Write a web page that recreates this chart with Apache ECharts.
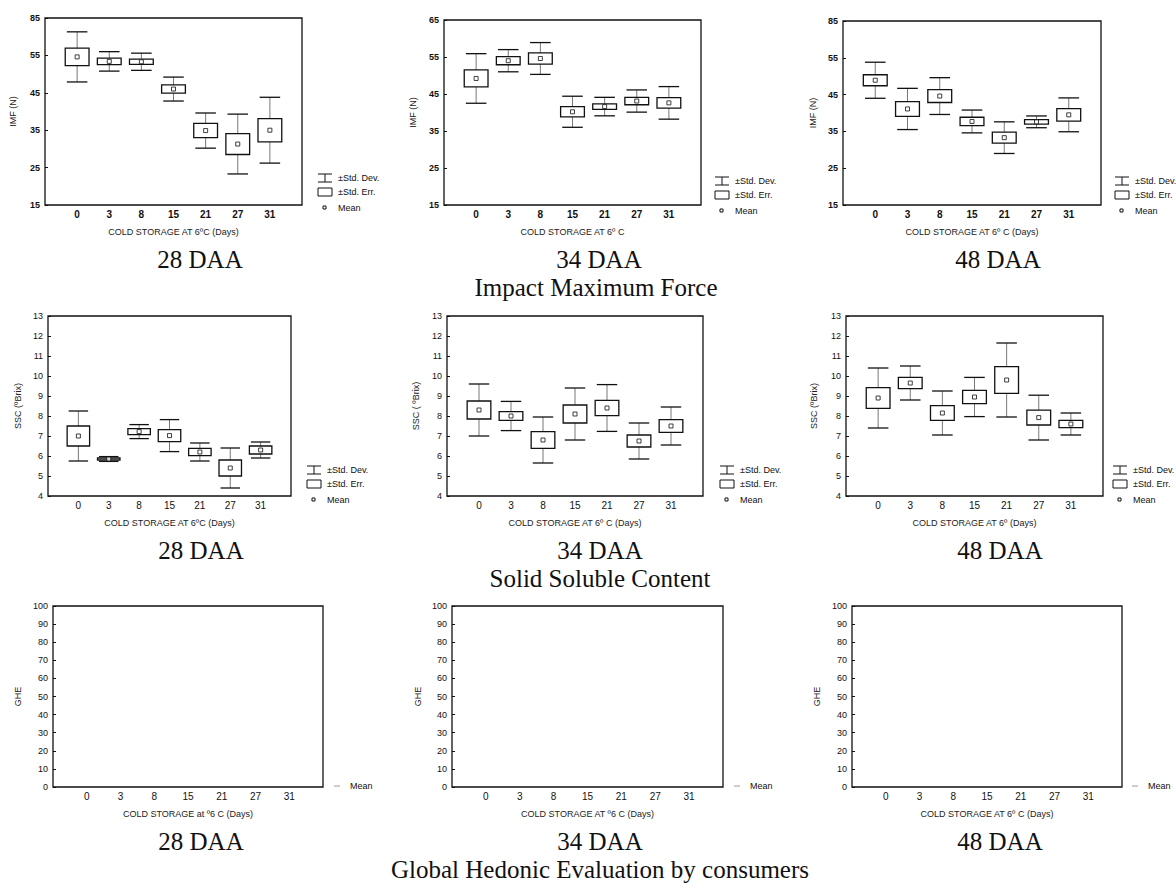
<!DOCTYPE html>
<html>
<head>
<meta charset="utf-8">
<script src="https://cdn.jsdelivr.net/npm/echarts@6/dist/echarts.min.js"></script>
<style>
html, body { margin: 0; background: #fff; }
#chart { width: 1176px; height: 884px; }
</style>
</head>
<body>
<div id="chart"></div>
<script>
// storage days (x categories)
const days = ['0', '3', '8', '15', '21', '27', '31'];

// Impact Maximum Force (N): mean, std. error, std. deviation
const imf28Mean = [54.6, 53.4, 53.3, 46.0, 34.9, 31.3, 35.0];
const imf28SE   = [2.35, 0.85, 0.7, 1.1, 1.9, 2.8, 3.1];
const imf28SD   = [6.7, 2.6, 2.3, 3.2, 4.7, 8.0, 8.8];

const imf34Mean = [49.2, 54.0, 54.6, 40.2, 41.6, 43.1, 42.6];
const imf34SE   = [2.3, 1.1, 1.5, 1.4, 0.75, 1.0, 1.4];
const imf34SD   = [6.7, 3.0, 4.3, 4.2, 2.5, 3.0, 4.4];

const imf48Mean = [48.9, 41.1, 44.6, 37.7, 33.3, 37.6, 39.5];
const imf48SE   = [1.5, 2.0, 1.75, 1.15, 1.5, 0.6, 1.7];
const imf48SD   = [4.9, 5.6, 5.0, 3.1, 4.3, 1.6, 4.6];

// Solid Soluble Content (ºBrix)
const ssc28Mean = [7.0, 5.85, 7.22, 7.02, 6.2, 5.4, 6.3];
const ssc28SE   = [0.5, 0.05, 0.15, 0.3, 0.18, 0.4, 0.2];
const ssc28SD   = [1.25, 0.12, 0.35, 0.8, 0.45, 1.0, 0.4];

const ssc34Mean = [8.3, 8.0, 6.8, 8.1, 8.4, 6.75, 7.5];
const ssc34SE   = [0.45, 0.22, 0.42, 0.45, 0.38, 0.3, 0.32];
const ssc34SD   = [1.3, 0.73, 1.15, 1.3, 1.17, 0.9, 0.95];

const ssc48Mean = [8.9, 9.65, 8.15, 8.95, 9.8, 7.92, 7.6];
const ssc48SE   = [0.52, 0.28, 0.37, 0.33, 0.67, 0.37, 0.18];
const ssc48SD   = [1.5, 0.85, 1.1, 0.98, 1.85, 1.12, 0.55];

// tick labels as printed
const imfTicksA = ['15', '25', '35', '45', '55', '85'];
const imfTicksB = ['15', '25', '35', '45', '55', '65'];
const sscTicks  = ['4', '5', '6', '7', '8', '9', '10', '11', '12', '13'];
const gheTicks  = ['0', '10', '20', '30', '40', '50', '60', '70', '80', '90', '100'];

const panels = [
  {box: [45, 18, 257, 187], ymin: 15, ymax: 65, step: 10, ticks: imfTicksA, yName: 'IMF (N)', yGap: 28, xName: 'COLD STORAGE AT 6ºC (Days)', mean: imf28Mean, se: imf28SE, sd: imf28SD, leg: [318, 178], bold: true},
  {box: [444, 20, 257, 185], ymin: 15, ymax: 65, step: 10, ticks: imfTicksB, yName: 'IMF (N)', yGap: 27, xName: 'COLD STORAGE AT 6º C', mean: imf34Mean, se: imf34SE, sd: imf34SD, leg: [715, 181], bold: true},
  {box: [843, 21, 258, 184], ymin: 15, ymax: 65, step: 10, ticks: imfTicksA, yName: 'IMF (N)', yGap: 26, xName: 'COLD STORAGE AT 6º C (Days)', mean: imf48Mean, se: imf48SE, sd: imf48SD, leg: [1115, 181], bold: true},
  {box: [48, 316, 243, 180], ymin: 4, ymax: 13, step: 1, ticks: sscTicks, yName: 'SSC (ºBrix)', yGap: 26, xName: 'COLD STORAGE AT 6ºC (Days)', mean: ssc28Mean, se: ssc28SE, sd: ssc28SD, leg: [307, 470]},
  {box: [447, 316, 256, 180], ymin: 4, ymax: 13, step: 1, ticks: sscTicks, yName: 'SSC ( ºBrix)', yGap: 27, xName: 'COLD STORAGE AT 6º C (Days)', mean: ssc34Mean, se: ssc34SE, sd: ssc34SD, leg: [720, 470]},
  {box: [846, 316, 257, 180], ymin: 4, ymax: 13, step: 1, ticks: sscTicks, yName: 'SSC (ºBrix)', yGap: 28, xName: 'COLD STORAGE AT 6º (Days)', mean: ssc48Mean, se: ssc48SE, sd: ssc48SD, leg: [1113, 470]},
  {box: [53, 606, 270, 181], ymin: 0, ymax: 100, step: 10, ticks: gheTicks, yName: 'GHE', yGap: 31, xName: 'COLD STORAGE at º6 C (Days)', mean: [], se: [], sd: [], leg: [330, 786], meanOnly: true},
  {box: [452, 606, 271, 181], ymin: 0, ymax: 100, step: 10, ticks: gheTicks, yName: 'GHE', yGap: 30, xName: 'COLD STORAGE AT º6 C (Days)', mean: [], se: [], sd: [], leg: [730, 786], meanOnly: true},
  {box: [852, 606, 270, 181], ymin: 0, ymax: 100, step: 10, ticks: gheTicks, yName: 'GHE', yGap: 31, xName: 'COLD STORAGE AT 6º C (Days)', mean: [], se: [], sd: [], leg: [1128, 786], meanOnly: true}
];

const captions = [
  ['28 DAA', 200, 259], ['34 DAA', 599, 259], ['48 DAA', 998, 259],
  ['Impact Maximum Force', 596, 287],
  ['28 DAA', 201, 550], ['34 DAA', 600, 550], ['48 DAA', 1000, 550],
  ['Solid Soluble Content', 600, 578],
  ['28 DAA', 201, 841], ['34 DAA', 600, 841], ['48 DAA', 1000, 841],
  ['Global Hedonic Evaluation by consumers', 600, 869]
];

function renderWhisker(params, api) {
  var x = api.value(0), m = api.value(1), d = api.value(2);
  var hi = api.coord([x, m + d]), lo = api.coord([x, m - d]);
  var half = api.size([1, 0])[0] * 0.32;
  var cap = {stroke: '#111', lineWidth: 1.3};
  return {type: 'group', children: [
    {type: 'line', shape: {x1: hi[0], y1: hi[1], x2: lo[0], y2: lo[1]}, style: {stroke: '#555', lineWidth: 0.8}},
    {type: 'line', shape: {x1: hi[0] - half, y1: hi[1], x2: hi[0] + half, y2: hi[1]}, style: cap},
    {type: 'line', shape: {x1: lo[0] - half, y1: lo[1], x2: lo[0] + half, y2: lo[1]}, style: cap}
  ]};
}

function renderBox(params, api) {
  var x = api.value(0), m = api.value(1), e = api.value(2);
  var top = api.coord([x, m + e]), bot = api.coord([x, m - e]);
  var w = api.size([1, 0])[0] * 0.74;
  return {type: 'rect', shape: {x: top[0] - w / 2, y: top[1], width: w, height: Math.max(bot[1] - top[1], 1)},
    style: {fill: '#fff', stroke: '#111', lineWidth: 1.3}};
}

const FONT = 'Liberation Sans, Arial, sans-serif';
const SERIF = 'Liberation Serif, Times New Roman, serif';

function legendItems(x, y, meanOnly) {
  var txt = function (s, ty) {
    return {type: 'text', x: x + 20, y: ty, style: {text: s, fontSize: 9, fontFamily: FONT, fill: '#111', verticalAlign: 'middle', textVerticalAlign: 'middle'}};
  };
  var ln = {stroke: '#111', lineWidth: 1};
  if (meanOnly) {
    return [
      {type: 'line', shape: {x1: x + 4, y1: y, x2: x + 10, y2: y}, style: {stroke: '#999', lineWidth: 1}},
      txt('Mean', y)
    ];
  }
  return [
    {type: 'line', shape: {x1: x, y1: y - 4, x2: x + 14, y2: y - 4}, style: ln},
    {type: 'line', shape: {x1: x + 7, y1: y - 4, x2: x + 7, y2: y + 4}, style: ln},
    {type: 'line', shape: {x1: x, y1: y + 4, x2: x + 14, y2: y + 4}, style: ln},
    txt('±Std. Dev.', y),
    {type: 'rect', shape: {x: x, y: y + 10, width: 14, height: 8}, style: {fill: '#fff', stroke: '#111', lineWidth: 1}},
    txt('±Std. Err.', y + 14),
    {type: 'rect', shape: {x: x + 5, y: y + 28, width: 3, height: 3}, style: {fill: '#fff', stroke: '#111', lineWidth: 1}},
    txt('Mean', y + 30)
  ];
}

const grids = [], xAxes = [], yAxes = [], series = [], graphics = [];

panels.forEach(function (p, i) {
  grids.push({left: p.box[0], top: p.box[1], width: p.box[2], height: p.box[3], show: true,
    borderColor: '#111', borderWidth: 1.3, backgroundColor: '#fff'});
  xAxes.push({
    gridIndex: i, type: 'value', min: -1, max: 7, interval: 1, position: 'bottom',
    name: p.xName, nameLocation: 'middle', nameGap: 22,
    nameTextStyle: {fontSize: 9, fontFamily: FONT, color: '#222'},
    axisLine: {show: false, onZero: false}, axisTick: {show: false}, splitLine: {show: false},
    axisLabel: {fontSize: 10, margin: 4, color: '#111', fontFamily: FONT, fontWeight: p.bold ? 'bold' : 'normal',
      formatter: function (v) { return (v >= 0 && v < days.length && v === Math.round(v)) ? days[v] : ''; }}
  });
  yAxes.push({
    gridIndex: i, type: 'value', min: p.ymin, max: p.ymax, interval: p.step, position: 'left',
    name: p.yName, nameLocation: 'middle', nameGap: p.yGap, nameRotate: 90,
    nameTextStyle: {fontSize: 9, fontFamily: FONT, color: '#222'},
    axisLine: {show: false, onZero: false}, splitLine: {show: false},
    axisTick: {show: true, inside: true, length: 3, lineStyle: {color: '#111'}},
    axisLabel: {fontSize: 9, margin: 5, color: '#111', fontFamily: FONT, fontWeight: p.bold ? 'bold' : 'normal',
      formatter: function (v) { return p.ticks[Math.round((v - p.ymin) / p.step)] || ''; }}
  });
  if (!p.meanOnly) {
    series.push({type: 'custom', name: '±Std. Dev.', xAxisIndex: i, yAxisIndex: i, silent: true,
      renderItem: renderWhisker, data: p.mean.map(function (m, k) { return [k, m, p.sd[k]]; })});
    series.push({type: 'custom', name: '±Std. Err.', xAxisIndex: i, yAxisIndex: i, silent: true,
      renderItem: renderBox, data: p.mean.map(function (m, k) { return [k, m, p.se[k]]; })});
  }
  series.push({type: 'scatter', name: 'Mean', xAxisIndex: i, yAxisIndex: i, silent: true,
    symbol: 'rect', symbolSize: 4, itemStyle: {color: '#fff', borderColor: '#111', borderWidth: 1},
    data: p.mean.map(function (m, k) { return [k, m]; })});
  legendItems(p.leg[0], p.leg[1], p.meanOnly).forEach(function (g) { graphics.push(g); });
});

captions.forEach(function (c) {
  graphics.push({type: 'text', x: c[1], y: c[2], style: {text: c[0], fontSize: 25, fontFamily: SERIF, fill: '#111',
    align: 'center', textAlign: 'center', verticalAlign: 'middle', textVerticalAlign: 'middle'}});
});

const chart = echarts.init(document.getElementById('chart'), null, {renderer: 'svg'});
chart.setOption({
  animation: false,
  backgroundColor: '#fff',
  grid: grids,
  xAxis: xAxes,
  yAxis: yAxes,
  series: series,
  graphic: graphics
});
</script>
</body>
</html>
